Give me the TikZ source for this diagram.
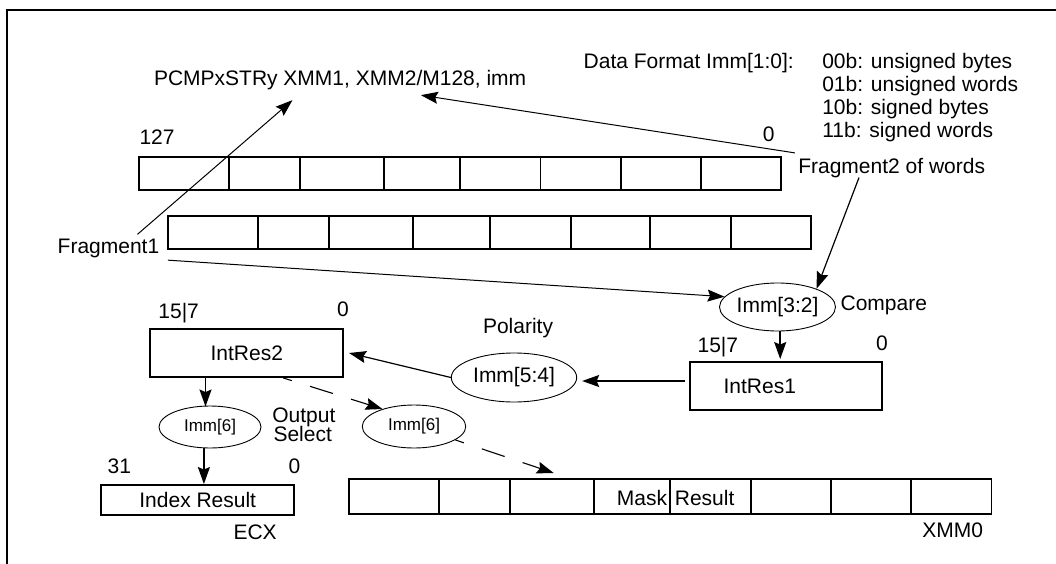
\documentclass[tikz,border=0pt]{standalone}
\usepackage{fontspec}
\setmainfont{Liberation Sans}
\usetikzlibrary{arrows.meta,shapes.geometric,calc}
\begin{document}
\begin{tikzpicture}[x=1pt,y=-1pt,
  every node/.style={font=\fontsize{21}{23}\selectfont, inner sep=0pt},
  lbl/.style={anchor=base west},
  lble/.style={anchor=base east},
  regbox/.style={draw, line width=1.9pt},
  oval/.style={draw, ellipse, line width=0.9pt, inner sep=0pt},
  smallf/.style={font=\fontsize{17}{20}\selectfont},
  arr/.style={-{Stealth[length=17pt,width=12pt,inset=2.5pt]}, line width=1pt},
  thickarr/.style={arr, line width=1.7pt},
  dsh/.style={arr, line width=1.1pt, dash pattern=on 24pt off 19pt, dash phase=15pt},
  cellline/.style={line width=1.9pt}]
\useasboundingbox (0,0) rectangle (1056,564);
% frame
\draw[line width=2pt] (6.8,570) -- (6.8,10) -- (1062,10);

% texts
\node[lbl] (title) at (153.8,86) {PCMPxSTRy XMM1, XMM2/M128, imm};
\node[lbl] (dfmt) at (583.5,68.3) {Data Format Imm[1:0]:};
\node[lbl] (fmt0) at (822.1,68.3) {00b: unsigned bytes};
\node[lbl] (fmt1) at (822.1,91.4) {01b: unsigned words};
\node[lbl] (fmt2) at (822.1,114.5) {10b: signed bytes};
\node[lbl] (fmt3) at (822.1,137.6) {11b: signed words};
\node[lbl] (n127) at (139.3,145) {127};
\node[lbl] (n0a) at (762.6,142) {0};
\node[lbl] (frag1) at (57.5,253) {Fragment1};
\node[lbl] (frag2) at (798.1,173) {Fragment2 of words};
\node[lbl] (compare) at (840.4,310) {Compare};
\node[lbl] (polarity) at (482.8,333) {Polarity};
\node[lbl] (r1hi) at (697.4,352) {15|7};
\node[lbl] (r1lo) at (875.9,350) {0};
\node[lbl] (r2hi) at (158.2,318) {15|7};
\node[lbl] (r2lo) at (337,316) {0};
\node[lbl] (ixhi) at (107.5,473) {31};
\node[lbl] (ixlo) at (288.4,473) {0};
\node[lbl] (ecx) at (233.3,539) {ECX};
\node[lbl] (outp) at (272.1,422) {Output};
\node[lbl] (sel) at (273.3,441) {Select};
\node[lbl] (xmm0) at (922.2,537) {XMM0};

% register rows
\node[regbox, minimum width=642.6pt, minimum height=33pt] (rowA) at (459.9,173.5) {};
\foreach \x in {229.2,299.9,384.4,460.4,540.5,621.3,701.1}
  \draw[cellline] (\x,157) -- (\x,190);
\node[regbox, minimum width=642.2pt, minimum height=33pt] (rowB) at (489.5,232.5) {};
\foreach \x in {257.9,328.6,413.1,490.2,571,650.4,731.2}
  \draw[cellline] (\x,216) -- (\x,249);
\node[regbox, minimum width=642.3pt, minimum height=35pt] (mask) at (670.35,496.5) {};
\foreach \x in {438.8,509.8,593.6,669.7,750.8,830.9,910.7}
  \draw[cellline] (\x,479) -- (\x,514);
\node[lble] (maskt) at (667.3,505) {Mask};
\node[lbl] (rest) at (674.7,505) {Result};

% boxes
\node[regbox, minimum height=48pt, text width=124.4pt, inner xsep=34pt, inner ysep=0pt, align=left] (r1) at (785.8,386) {IntRes1};
\node[regbox, minimum width=192.7pt, minimum height=48pt] (r2) at (246.75,353) {IntRes2};
\node[regbox, minimum width=192.7pt, minimum height=30pt] (idx) at (197.75,500) {Index Result};

% ellipses
\node[oval, minimum width=116pt, minimum height=48pt] (e32) at (777.5,307) {Imm[3:2]};
\node[oval, minimum width=125.4pt, minimum height=49pt] (e54) at (514,377.5) {Imm[5:4]};
\node[oval, smallf, minimum width=102pt, minimum height=42pt] (e6a) at (210,427) {Imm[6]};
\node[oval, smallf, minimum width=103.5pt, minimum height=43pt] (e6b) at (414,426.5) {Imm[6]};

% connectors
\draw[arr] ($(frag1.north east)+(-22,-4)$) -- ($(title.south west)+(138.7,9.6)$);
\draw[arr] ($(frag1.south east)+(8.5,2.6)$) -- (e32.169);
\draw[arr] ($(frag2.north west)+(-3.3,-4.7)$) -- ($(title.south west)+(267.1,4.6)$);
\draw[arr, line width=1.2pt] ($(frag2.south west)+(60.9,0)$) -- (e32.25);
\draw[thickarr, shorten >=2pt] ($(e32.south)+(2.7,0)$) -- ($(e32.south |- r1.north)+(2.7,0)$);
\draw[thickarr, line width=1.5pt] ($(r1.west)+(-4,-5)$) -- ($(e54.east)+(5,3.5)$);
\draw[arr, line width=1.2pt] (e54.west) -- ($(r2.east)+(5,0)$);
\draw[thickarr] ($(r2.south)+(-41.25,0)$) -- ($(e6a.north)+(-4.5,1)$);
\draw[thickarr] ($(e6a.south)+(-6.1,0)$) -- ($(idx.north)+(6.15,0)$);
\draw[dsh] ($(r2.south)+(36.5,0)$) -- (e6b.151);
\draw[dsh] (e6b.-18) -- ($(mask.north west)+(205.5,-5)$);
\end{tikzpicture}
\end{document}
